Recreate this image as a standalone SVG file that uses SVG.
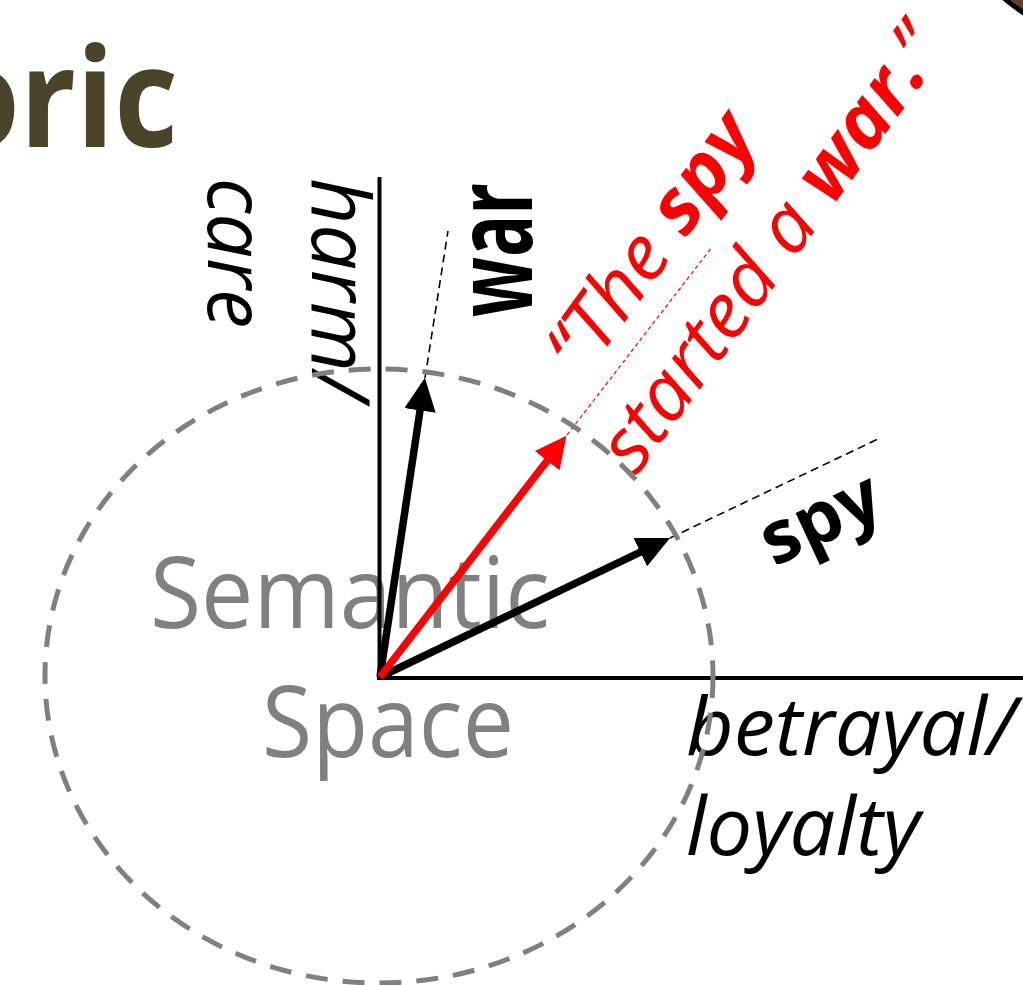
<svg xmlns="http://www.w3.org/2000/svg" width="1023" height="985" viewBox="0 0 1023 985">
<style>
.f{font-family:"Open Sans","Liberation Sans",sans-serif}
.it{font-style:italic}
.b{font-weight:bold}
.axis{stroke:#000;stroke-width:4;fill:none}
.vec{stroke-width:7.5;fill:none}
.ext{stroke:#000;stroke-width:1.6;stroke-dasharray:8 5;fill:none}
.extr{stroke:#f00;stroke-width:1.2;stroke-dasharray:4 3;fill:none}
</style>
<defs>
<marker id="ahK" viewBox="0 0 10 10" refX="3" refY="5" markerWidth="4.4" markerHeight="4.2" orient="auto" markerUnits="strokeWidth" preserveAspectRatio="none"><path d="M0,0 L10,5 L0,10 z" fill="#000"/></marker>
<marker id="ahR" viewBox="0 0 10 10" refX="3" refY="5" markerWidth="4.2" markerHeight="4.2" orient="auto" markerUnits="strokeWidth" preserveAspectRatio="none"><path d="M0,0 L10,5 L0,10 z" fill="#f00"/></marker>
</defs>
<rect width="1023" height="985" fill="#fff"/>

<g id="corner-shape">
<circle cx="1194" cy="-234" r="300" fill="#5a4428" stroke="#000" stroke-width="5"/>
</g>

<g id="title">
<text class="f b" transform="translate(178,147) scale(0.9,1)" x="0" y="0" font-size="138" fill="#4A452A" text-anchor="end">oric</text>
</g>

<g id="semantic-space-label">
<text class="f" x="150" y="628" font-size="98" fill="#808080" textLength="400" lengthAdjust="spacingAndGlyphs">Semantic</text>
<text class="f" x="262" y="757" font-size="98" fill="#808080" textLength="252" lengthAdjust="spacingAndGlyphs">Space</text>
</g>

<g id="axis-care-harm">
<g transform="translate(312,178) rotate(90)">
<text class="f it" x="0" y="0" font-size="80" fill="#000" textLength="222" lengthAdjust="spacingAndGlyphs">harm/</text>
<text class="f it" x="0" y="104" font-size="80" fill="#000" textLength="150" lengthAdjust="spacingAndGlyphs">care</text>
</g>
</g>

<g id="axis-betrayal-loyalty">
<text class="f it" x="686" y="755" font-size="80" fill="#000" textLength="330" lengthAdjust="spacingAndGlyphs">betrayal/</text>
<text class="f it" x="686" y="855" font-size="80" fill="#000" textLength="234" lengthAdjust="spacingAndGlyphs">loyalty</text>
</g>

<g id="label-war">
<text class="f b" transform="translate(532,317) rotate(-90)" x="0" y="0" font-size="108" fill="#000" textLength="134" lengthAdjust="spacingAndGlyphs">war</text>
</g>

<g id="label-spy">
<text class="f b" transform="translate(774,567) rotate(-25)" x="0" y="0" font-size="73" fill="#000" textLength="125" lengthAdjust="spacingAndGlyphs">spy</text>
</g>

<g id="label-sentence" transform="translate(612,340) rotate(-54)">
<text class="f it" x="-48" y="0" font-size="76" fill="#f00" textLength="300" lengthAdjust="spacingAndGlyphs">“The <tspan class="b">spy</tspan></text>
<text class="f it" x="-96" y="100" font-size="76" fill="#f00" textLength="526" lengthAdjust="spacingAndGlyphs">started a <tspan class="b">war.</tspan>”</text>
</g>

<g id="axes">
<line class="axis" x1="379.5" y1="177" x2="379.5" y2="680"/>
<line class="axis" x1="377" y1="678" x2="1023" y2="678"/>
</g>

<g id="connectors">
<line class="ext" x1="425" y1="378" x2="448" y2="231"/>
<line class="ext" x1="670" y1="538" x2="878" y2="439"/>
<line class="extr" x1="567" y1="435" x2="712" y2="247"/>
<line class="vec" stroke="#000" x1="380" y1="677" x2="421.5" y2="400.7" marker-end="url(#ahK)"/>
<line class="vec" stroke="#000" x1="380" y1="677" x2="649.2" y2="547.9" marker-end="url(#ahK)"/>
<line class="vec" stroke="#f00" x1="380" y1="677" x2="552.9" y2="453.2" marker-end="url(#ahR)"/>
</g>

<g id="semantic-space-boundary">
<ellipse cx="379" cy="676" rx="334" ry="307" fill="none" stroke="#808080" stroke-width="5" stroke-dasharray="22 15"/>
</g>
</svg>
